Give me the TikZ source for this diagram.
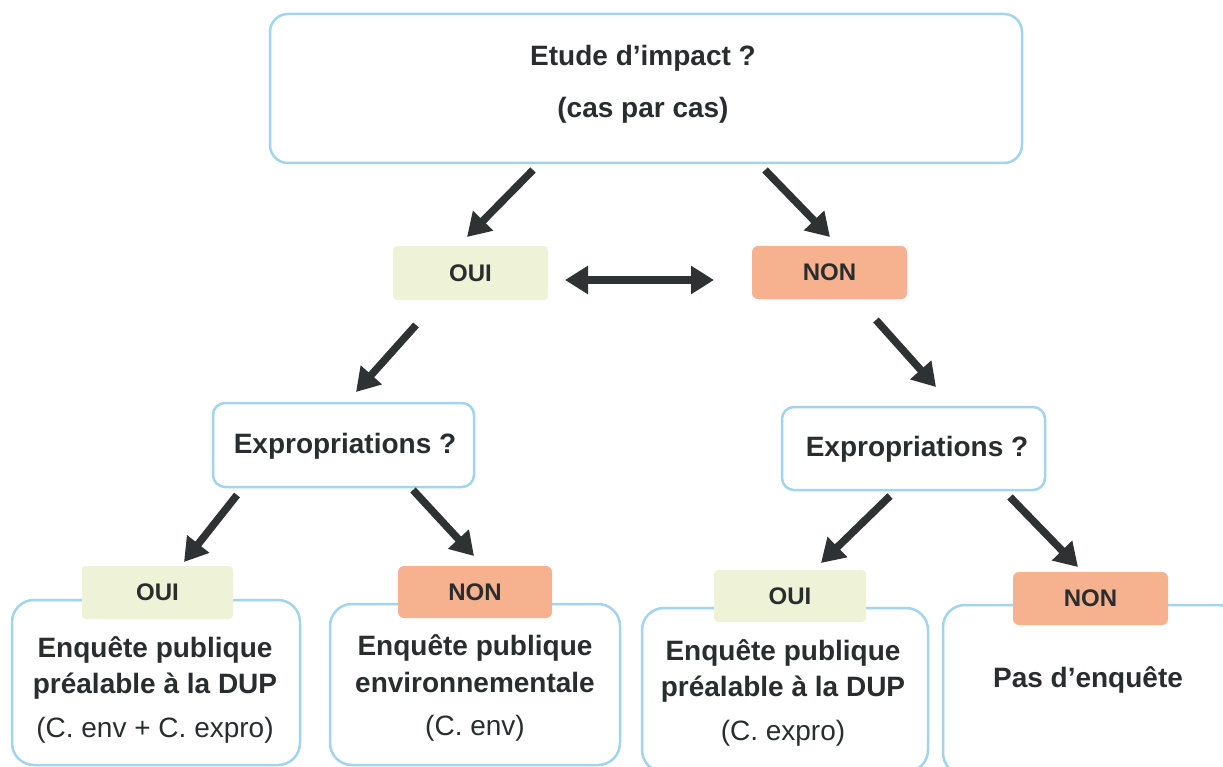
\documentclass[tikz,border=0pt]{standalone}
\usepackage{fontspec}
\setmainfont{Liberation Sans}
\usetikzlibrary{arrows.meta}
\definecolor{bordc}{HTML}{A2D4EE}
\definecolor{ouic}{HTML}{EEF2D6}
\definecolor{nonc}{HTML}{F6B18F}
\definecolor{txtc}{HTML}{2A2D2E}
\definecolor{arrc}{HTML}{2E3233}
\tikzset{
  box/.style={draw=bordc, line width=2.5pt, fill=white, inner sep=0pt},
  lab/.style={inner sep=0pt, rounded corners=4pt, text=txtc, font=\fontsize{24}{28}\selectfont\bfseries},
  ouilab/.style={lab, fill=ouic},
  nonlab/.style={lab, fill=nonc, rounded corners=6pt},
  bt/.style={text=txtc, inner sep=0pt, font=\fontsize{28}{33}\selectfont\bfseries},
  nt/.style={text=txtc, inner sep=0pt, font=\fontsize{28}{33}\selectfont},
  arr/.style={draw=arrc, line width=7.5pt, -{Triangle[length=23pt,width=27pt]}},
  darr/.style={draw=arrc, line width=7.5pt, {Triangle[length=23pt,width=27pt]}-{Triangle[length=23pt,width=27pt]}},
}
\begin{document}
\begin{tikzpicture}[x=1pt,y=-1pt]
\useasboundingbox (0,0) rectangle (1223,767);
\begin{scope}
\clip (0,0) rectangle (1223,767);
% top box
\node[box, rounded corners=18pt, minimum width=752pt, minimum height=149pt] (top) at (646,88.5) {};
\node[bt] (t1) at (643,58) {Etude d’impact ?};
\node[bt] (t2) at (643,110) {(cas par cas)};
% first level
\node[ouilab, minimum width=155pt, minimum height=54pt] (oui0) at (470.5,273) {OUI};
\node[nonlab, minimum width=155pt, minimum height=53pt] (non0) at (829.5,272.5) {NON};
% expropriations
\node[box, rounded corners=12pt, minimum width=261pt, minimum height=84pt] (exL) at (343.5,445) {};
\node[bt] (exLt) at (345,446) {Expropriations ?};
\node[box, rounded corners=12pt, minimum width=263pt, minimum height=83pt] (exR) at (913.5,448.5) {};
\node[bt] (exRt) at (917,449) {Expropriations ?};
% bottom boxes
\node[box, rounded corners=22pt, minimum width=288pt, minimum height=165pt] (b1) at (156,682.5) {};
\node[box, rounded corners=22pt, minimum width=290pt, minimum height=161pt] (b2) at (475,684.5) {};
\node[box, rounded corners=22pt, minimum width=286pt, minimum height=164pt] (b3) at (785,690) {};
\node[box, rounded corners=22pt, minimum width=297pt, minimum height=170pt] (b4) at (1091.5,690) {};
% labels on bottom boxes
\node[ouilab, minimum width=151pt, minimum height=53pt] (oui1) at (157.5,592.5) {OUI};
\node[nonlab, minimum width=154pt, minimum height=52pt] (non1) at (475,592) {NON};
\node[ouilab, minimum width=152pt, minimum height=52pt] (oui2) at (790,596) {OUI};
\node[nonlab, minimum width=155pt, minimum height=53pt] (non2) at (1090.5,598.5) {NON};
% texts in bottom boxes
\node[bt] (b1a) at (155,650) {Enquête publique};
\node[bt] (b1b) at (155,686) {préalable à la DUP};
\node[nt] (b1c) at (155,730) {(C. env + C. expro)};
\node[bt] (b2a) at (475,648) {Enquête publique};
\node[bt] (b2b) at (475,682) {environnementale};
\node[nt] (b2c) at (475,728) {(C. env)};
\node[bt] (b3a) at (783,653) {Enquête publique};
\node[bt] (b3b) at (783,689) {préalable à la DUP};
\node[nt] (b3c) at (783,733) {(C. expro)};
\node[bt] (b4a) at (1088,680) {Pas d’enquête};
% arrow end points
\coordinate (a1s) at (533,170); \coordinate (a1e) at (467,237);
\coordinate (a2s) at (765,170); \coordinate (a2e) at (830,237);
\coordinate (a3s) at (565,280); \coordinate (a3e) at (714,280);
\coordinate (a4s) at (416,325); \coordinate (a4e) at (356,392);
\coordinate (a5s) at (876,320); \coordinate (a5e) at (936,387);
\coordinate (a6s) at (237,495); \coordinate (a6e) at (184,562);
\coordinate (a7s) at (413,490); \coordinate (a7e) at (474,556);
\coordinate (a8s) at (890,496); \coordinate (a8e) at (821,563);
\coordinate (a9s) at (1010,497); \coordinate (a9e) at (1078,567);
\draw[arr] (a1s) -- (a1e);
\draw[arr] (a2s) -- (a2e);
\draw[darr] (a3s) -- (a3e);
\draw[arr] (a4s) -- (a4e);
\draw[arr] (a5s) -- (a5e);
\draw[arr] (a6s) -- (a6e);
\draw[arr] (a7s) -- (a7e);
\draw[arr] (a8s) -- (a8e);
\draw[arr] (a9s) -- (a9e);
\end{scope}
\end{tikzpicture}
\end{document}
